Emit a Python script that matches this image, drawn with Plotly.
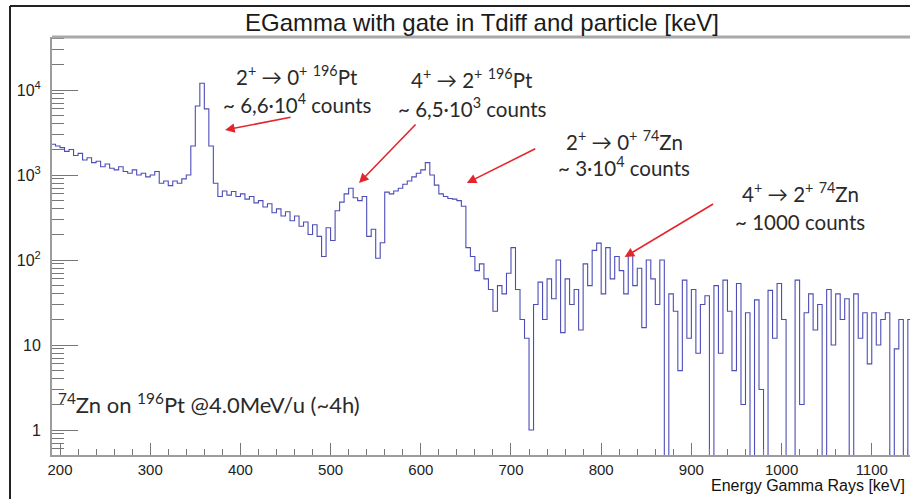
import plotly.graph_objects as go

# Gamma-ray energy spectrum, 5 keV bins starting at 190 keV
BIN_WIDTH = 5
E_START = 190

# 190-375 keV: low-energy background and the 2+ -> 0+ 196Pt line
counts_low = [2300, 2200, 2100, 1900, 2000, 1700, 1800, 1500, 1600, 1400,
              1450, 1250, 1350, 1200, 1150, 1250, 1100, 1050, 1150, 1000,
              1050, 950, 1000, 1100, 800, 850, 750, 850, 800, 900,
              1000, 2200, 6500, 12000, 6000, 2200, 800]
# 375-650 keV: 4+ -> 2+ 196Pt and 2+ -> 0+ 74Zn region
counts_mid = [560, 650, 580, 640, 560, 600, 520, 560, 470, 500,
              420, 460, 360, 400, 330, 370, 290, 330, 250, 280,
              200, 260, 190, 110, 240, 170, 380, 480, 600, 700,
              540, 500, 560, 190, 230, 105, 160, 630, 600, 650,
              700, 780, 850, 950, 1050, 1150, 1400, 1000, 760, 600,
              560, 530, 520, 500, 430]
# 650-1145 keV: high-energy tail, 4+ -> 2+ 74Zn
counts_high = [140, 110, 75, 90, 60, 45, 25, 50, 40, 70,
               140, 45, 20, 12, 1, 30, 55, 20, 60, 35,
               100, 14, 60, 30, 45, 15, 90, 50, 130, 158,
               40, 140, 60, 110, 75, 40, 115, 50, 80, 16,
               100, 60, 30, 100, 0, 40, 25, 5, 58, 12,
               45, 8, 30, 38, 0, 50, 8, 58, 25, 5,
               53, 2, 24, 0, 34, 3, 0, 44, 12, 53,
               20, 0, 0, 58, 2, 24, 40, 15, 30, 0,
               45, 10, 40, 20, 35, 0, 40, 12, 24, 6,
               24, 10, 20, 24, 0, 9, 20, 0, 20]

counts = counts_low + counts_mid + counts_high
edges = [E_START + i * BIN_WIDTH for i in range(len(counts) + 1)]

# empty bins are drawn down to below the axis floor, as on a log histogram
FLOOR = 0.1
step_y = [c if c > 0 else FLOOR for c in counts]
step_y = step_y + [step_y[-1]]

X_RANGE = [191.1, 1142.4]
Y_RANGE = [-0.294, 4.624]   # log10 counts

W, H = 910, 499
ML, MR, MT, MB = 52, 0, 37, 44
PW, PH = W - ML - MR, H - MT - MB


def pxx(x):
    return (x - ML) / PW


def pxy(y):
    return (H - MB - y) / PH


LINE_COLOR = "#4d4db8"
ARROW_COLOR = "#e2262b"
TEXT_COLOR = "#2a2a2a"
AXIS_GREY = "#9c9c9c"
LABEL_FONT = "Lato, 'Open Sans', sans-serif"
ROOT_FONT = "'Liberation Sans', Arial, sans-serif"

fig = go.Figure()
fig.add_trace(go.Scatter(
    x=edges, y=step_y, mode="lines", line_shape="hv",
    line=dict(color=LINE_COLOR, width=1.1),
    hoverinfo="skip", showlegend=False,
))

annotations = []

# title
annotations.append(dict(
    text="EGamma with gate in Tdiff and particle [keV]",
    x=pxx(482), y=pxy(22), xref="paper", yref="paper",
    xanchor="center", yanchor="middle", showarrow=False,
    font=dict(family=ROOT_FONT, size=24, color="#1a1a1a"),
))

# transition labels: (first line, second line, centre x, y1, y2)
labels = [
    ("2<sup>+</sup> → 0<sup>+</sup> <sup>196</sup>Pt", "~ 6,6·10<sup>4</sup> counts", 297, 75, 103),
    ("4<sup>+</sup> → 2<sup>+</sup> <sup>196</sup>Pt", "~ 6,5·10<sup>3</sup> counts", 472, 78, 107),
    ("2<sup>+</sup> → 0<sup>+</sup> <sup>74</sup>Zn", "~ 3·10<sup>4</sup> counts", 624, 140, 167),
    ("4<sup>+</sup> → 2<sup>+</sup> <sup>74</sup>Zn", "~ 1000 counts", 800, 193, 222),
]
for l1, l2, cx, y1, y2 in labels:
    for txt, yy in ((l1, y1), (l2, y2)):
        annotations.append(dict(
            text=txt, x=pxx(cx), y=pxy(yy), xref="paper", yref="paper",
            xanchor="center", yanchor="middle", showarrow=False,
            font=dict(family=LABEL_FONT, size=20.5, color=TEXT_COLOR),
        ))

# arrows pointing at the lines: head (energy, log10 counts), tail offset in px
arrows = [
    (383, 3.53, 67, -13),
    (531.5, 2.906, 58, -60),
    (651, 2.906, 70, -35),
    (826, 2.035, 90, -54),
]
for ex, ly, axo, ayo in arrows:
    annotations.append(dict(
        x=ex, y=ly, xref="x", yref="y", text="", showarrow=True,
        ax=axo, ay=ayo, axref="pixel", ayref="pixel",
        arrowhead=2, arrowsize=1.2, arrowwidth=1.6, arrowcolor=ARROW_COLOR,
    ))

# run description
annotations.append(dict(
    text="<sup>74</sup>Zn on <sup>196</sup>Pt @4.0MeV/u (~4h)",
    x=pxx(56), y=pxy(403), xref="paper", yref="paper",
    xanchor="left", yanchor="middle", showarrow=False,
    font=dict(family=LABEL_FONT, size=22, color=TEXT_COLOR),
))

# x-axis title, right aligned at the frame edge
annotations.append(dict(
    text="Energy Gamma Rays [keV]",
    x=pxx(907), y=pxy(486), xref="paper", yref="paper",
    xanchor="right", yanchor="middle", showarrow=False,
    font=dict(family=ROOT_FONT, size=16, color="#111111"),
))

shapes = [
    # frame top
    dict(type="line", xref="paper", yref="paper", x0=0, x1=1, y0=1, y1=1,
         line=dict(color="#a8a8a8", width=3)),
    # outer border of the canvas
    dict(type="line", xref="paper", yref="paper",
         x0=pxx(10), x1=pxx(10), y0=pxy(6), y1=pxy(499),
         line=dict(color="#222222", width=2)),
    dict(type="line", xref="paper", yref="paper",
         x0=pxx(10), x1=pxx(910), y0=pxy(6), y1=pxy(6),
         line=dict(color="#222222", width=2)),
]

fig.update_layout(
    width=W, height=H,
    margin=dict(l=ML, r=MR, t=MT, b=MB, pad=0),
    paper_bgcolor="white", plot_bgcolor="white",
    showlegend=False,
    annotations=annotations,
    shapes=shapes,
    xaxis=dict(
        range=X_RANGE, showgrid=False, zeroline=False,
        showline=True, linecolor=AXIS_GREY, linewidth=2,
        tickmode="array", tickvals=[200, 300, 400, 500, 600, 700, 800, 900, 1000, 1100],
        ticks="inside", ticklen=12, tickwidth=1, tickcolor="#777777",
        minor=dict(ticks="inside", ticklen=6, tickwidth=1, tickcolor="#777777",
                   tickmode="linear", tick0=0, dtick=20),
        tickfont=dict(family=ROOT_FONT, size=15, color="#222222"),
    ),
    yaxis=dict(
        type="log", range=Y_RANGE, showgrid=False, zeroline=False,
        showline=True, linecolor=AXIS_GREY, linewidth=2,
        tickmode="array", tickvals=[1, 10, 100, 1000, 10000],
        ticktext=["1", "10", "10<sup>2</sup>", "10<sup>3</sup>", "10<sup>4</sup>"],
        ticks="inside", ticklen=26, tickwidth=1, tickcolor="#777777",
        minor=dict(ticks="inside", ticklen=12, tickwidth=1, tickcolor="#777777",
                   dtick="D1"),
        tickfont=dict(family=ROOT_FONT, size=16, color="#222222"),
        ticklabelstandoff=6,
    ),
)

fig.write_html("out.html")
